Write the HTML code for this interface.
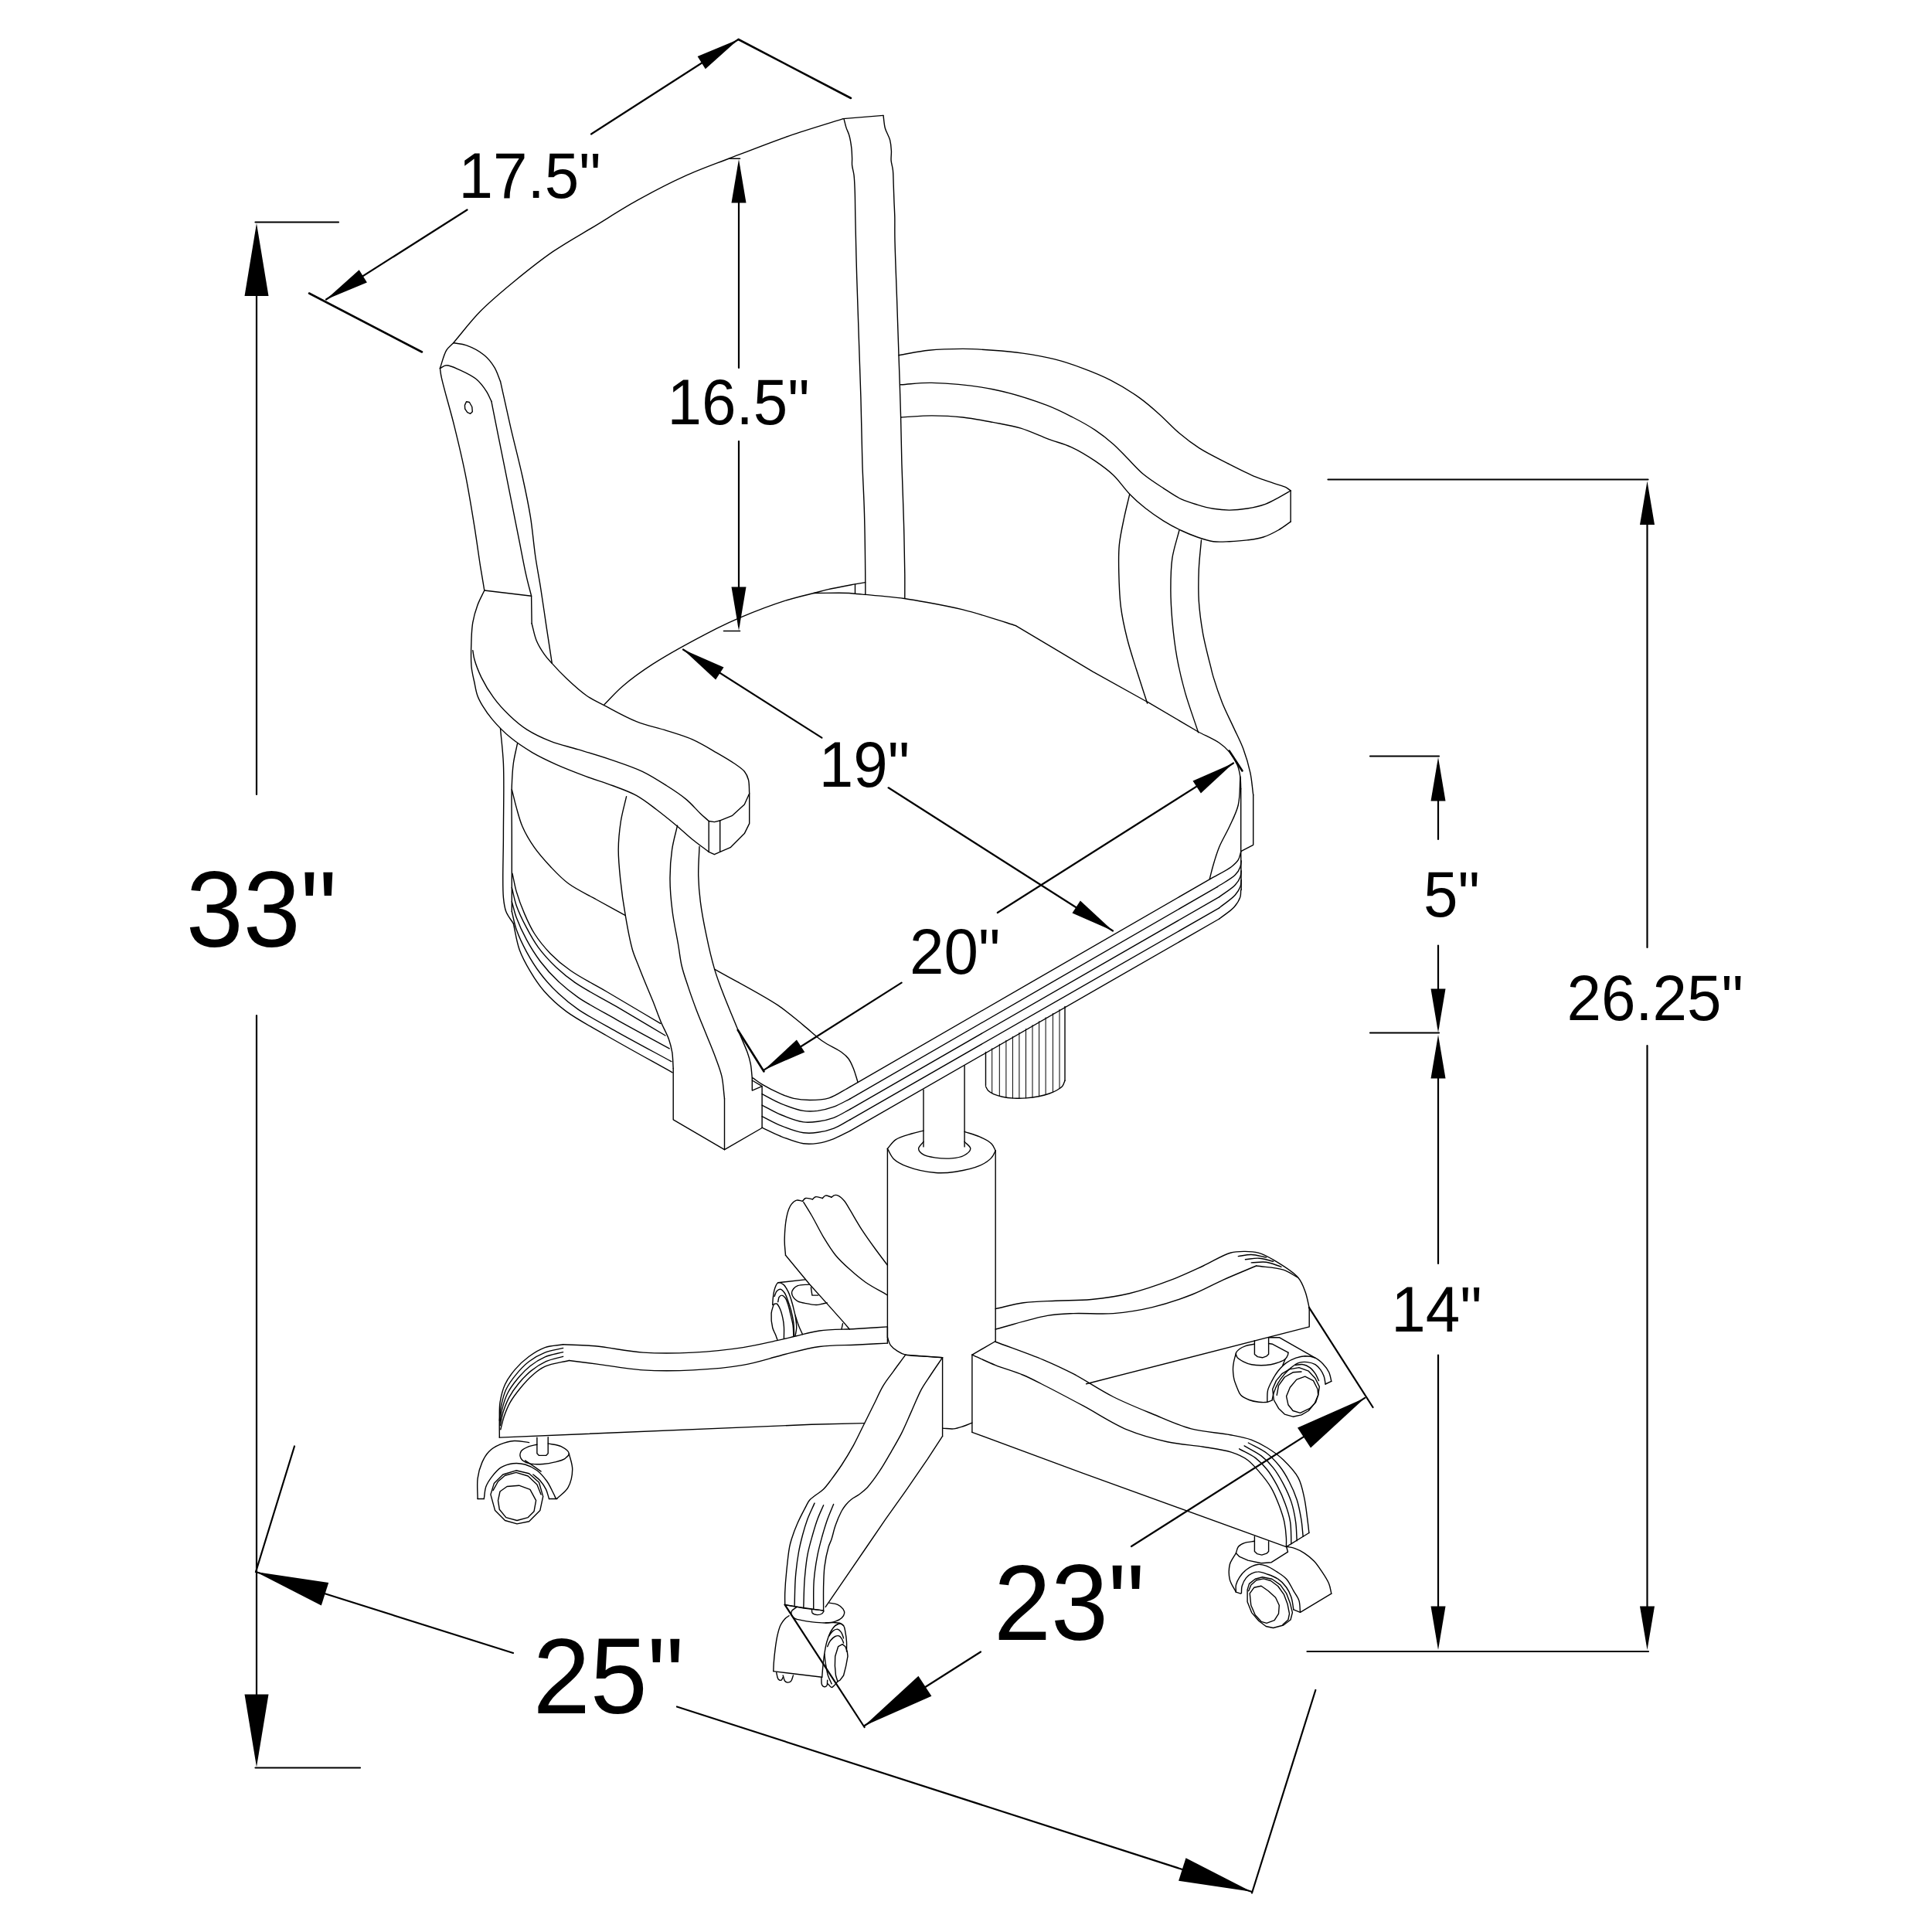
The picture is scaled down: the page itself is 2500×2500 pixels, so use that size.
<!DOCTYPE html>
<html><head><meta charset="utf-8"><title>Chair dimensions</title>
<style>
html,body{margin:0;padding:0;background:#fff;}
body{width:2500px;height:2500px;overflow:hidden;}
svg{display:block;}
svg path{fill:none;stroke:#000;stroke-linecap:round;stroke-linejoin:round;}
svg path.a{fill:#000;stroke:none;}
svg text{font-family:"Liberation Sans",sans-serif;fill:#000;stroke:none;}
</style></head><body>
<svg width="2500" height="2500" viewBox="0 0 2500 2500">
<rect x="0" y="0" width="2500" height="2500" fill="#fff"/>
<path d="M330.5,287.5 L438.0,287.5" stroke-width="2.20"/>
<path d="M332.0,300.0 L332.0,1028.0" stroke-width="2.20"/>
<path d="M332.0,1314.0 L332.0,2276.0" stroke-width="2.20"/>
<path class="a" d="M332.0,289.0 L347.5,383.0 L316.5,383.0 Z"/>
<path class="a" d="M332.0,2286.5 L316.5,2192.5 L347.5,2192.5 Z"/>
<path d="M330.5,2287.5 L466.0,2287.5" stroke-width="2.20"/>
<text transform="translate(240.7,1225.0) scale(1,1.045)" font-size="133.0" text-anchor="start">33&quot;</text>
<path d="M381.0,1871.5 L331.0,2034.0" stroke-width="2.20"/>
<path d="M1702.3,2187.0 L1620.0,2449.5" stroke-width="2.20"/>
<path d="M331.0,2034.0 L664.0,2139.0" stroke-width="2.20"/>
<path d="M876.0,2208.5 L1619.3,2447.8" stroke-width="2.20"/>
<path class="a" d="M331.0,2034.0 L425.2,2048.0 L415.8,2077.5 Z"/>
<path class="a" d="M1619.3,2447.8 L1525.1,2433.8 L1534.5,2404.3 Z"/>
<text transform="translate(689.7,2217.0) scale(1,1.045)" font-size="133.0" text-anchor="start">25&quot;</text>
<path d="M1015.5,2076.4 L1118.6,2235.0" stroke-width="2.20"/>
<path d="M1693.9,1691.9 L1776.5,1821.0" stroke-width="2.20"/>
<path d="M1118.3,2233.2 L1269.0,2137.5" stroke-width="2.20"/>
<path d="M1464.0,2001.0 L1766.1,1808.9" stroke-width="2.20"/>
<path class="a" d="M1118.3,2233.2 L1188.4,2168.7 L1205.4,2194.7 Z"/>
<path class="a" d="M1766.1,1808.9 L1696.0,1873.4 L1679.0,1847.4 Z"/>
<text transform="translate(1286.0,2122.0) scale(1,1.045)" font-size="133.0" text-anchor="start">23&quot;</text>
<path d="M1773.0,978.5 L1862.0,978.5" stroke-width="2.20"/>
<path d="M1773.0,1336.5 L1862.0,1336.5" stroke-width="2.20"/>
<path d="M1691.5,2137.0 L2133.0,2137.0" stroke-width="2.20"/>
<path class="a" d="M1861.0,980.0 L1870.5,1036.5 L1851.5,1036.5 Z"/>
<path d="M1861.0,990.0 L1861.0,1086.0" stroke-width="2.20"/>
<text transform="translate(1842.0,1186.0) scale(1,1.045)" font-size="80.0" text-anchor="start">5&quot;</text>
<path d="M1861.0,1223.5 L1861.0,1330.0" stroke-width="2.20"/>
<path class="a" d="M1861.0,1336.0 L1851.5,1279.5 L1870.5,1279.5 Z"/>
<path class="a" d="M1861.0,1339.0 L1870.5,1395.5 L1851.5,1395.5 Z"/>
<path d="M1861.0,1350.0 L1861.0,1635.0" stroke-width="2.20"/>
<text transform="translate(1800.3,1722.5) scale(1,1.045)" font-size="80.0" text-anchor="start">14&quot;</text>
<path d="M1861.0,1753.5 L1861.0,2125.0" stroke-width="2.20"/>
<path class="a" d="M1861.0,2135.0 L1851.5,2078.5 L1870.5,2078.5 Z"/>
<path d="M1718.5,620.5 L2132.5,620.5" stroke-width="2.20"/>
<path class="a" d="M2131.5,622.5 L2141.0,679.0 L2122.0,679.0 Z"/>
<path d="M2131.5,632.0 L2131.5,1226.0" stroke-width="2.20"/>
<path d="M2131.5,1353.0 L2131.5,2125.0" stroke-width="2.20"/>
<path class="a" d="M2131.5,2135.0 L2122.0,2078.5 L2141.0,2078.5 Z"/>
<text transform="translate(2027.4,1319.7) scale(1,1.045)" font-size="80.0" text-anchor="start">26.25&quot;</text>
<path d="M943.5,205.3 L957.5,205.3" stroke-width="1.60"/>
<path d="M936.5,816.5 L957.5,816.5" stroke-width="1.60"/>
<path class="a" d="M956.0,206.0 L965.5,262.5 L946.5,262.5 Z"/>
<path d="M956.0,215.0 L956.0,476.0" stroke-width="2.20"/>
<path d="M956.0,571.0 L956.0,810.0" stroke-width="2.20"/>
<path class="a" d="M956.0,816.0 L946.5,759.5 L965.5,759.5 Z"/>
<text transform="translate(863.5,548.5) scale(1,1.045)" font-size="80.0" text-anchor="start">16.5&quot;</text>
<path d="M400.0,379.5 L546.0,455.5" stroke-width="2.60"/>
<path d="M955.5,51.0 L1101.0,127.0" stroke-width="2.60"/>
<path d="M422.0,387.5 L604.5,271.5" stroke-width="2.20"/>
<path d="M765.0,173.5 L955.5,51.0" stroke-width="2.20"/>
<path class="a" d="M422.0,387.5 L464.7,349.3 L474.9,365.4 Z"/>
<path class="a" d="M955.5,51.0 L912.8,89.2 L902.6,73.1 Z"/>
<text transform="translate(593.5,256.0) scale(1,1.045)" font-size="80.0" text-anchor="start">17.5&quot;</text>
<path d="M884.0,840.5 L1063.4,954.6" stroke-width="2.20"/>
<path d="M1149.6,1019.3 L1440.0,1204.5" stroke-width="2.20"/>
<path class="a" d="M884.0,840.5 L936.5,863.5 L926.1,879.4 Z"/>
<path class="a" d="M1440.0,1204.5 L1387.5,1181.5 L1397.9,1165.6 Z"/>
<text transform="translate(1059.7,1018.0) scale(1,1.045)" font-size="80.0" text-anchor="start">19&quot;</text>
<path d="M954.7,1332.8 L988.5,1386.5" stroke-width="2.60"/>
<path d="M1590.7,971.6 L1607.5,997.5" stroke-width="2.60"/>
<path d="M988.8,1384.4 L1166.6,1271.6" stroke-width="2.20"/>
<path d="M1290.8,1181.0 L1596.0,987.5" stroke-width="2.20"/>
<path class="a" d="M988.8,1384.4 L1030.9,1345.5 L1041.3,1361.4 Z"/>
<path class="a" d="M1596.0,987.5 L1553.9,1026.4 L1543.5,1010.5 Z"/>
<text transform="translate(1177.0,1259.5) scale(1,1.045)" font-size="80.0" text-anchor="start">20&quot;</text>
<path d="M586.7,443.7 C598.3,430.1 608.8,415.8 621.6,402.8 C635.0,389.2 650.2,376.7 665.6,364.0 C681.7,350.8 698.7,337.1 716.1,325.2 C733.3,313.4 751.2,303.7 769.2,292.8 C787.5,281.7 805.6,269.8 824.8,259.2 C844.4,248.2 865.2,237.3 885.6,228.1 C905.3,219.2 923.9,212.7 945.0,204.5 C968.8,195.3 996.2,184.5 1021.1,175.8 C1044.8,167.6 1067.7,161.0 1091.0,153.6" stroke-width="1.40"/>
<path d="M1091.0,153.6 L1143.0,149.4" stroke-width="1.40"/>
<path d="M586.7,443.7 C583.7,446.9 580.2,449.0 577.6,453.3 C574.1,459.1 572.1,468.8 569.4,476.6" stroke-width="1.40"/>
<path d="M586.7,443.7 C592.3,444.7 597.6,444.7 603.5,446.8 C610.9,449.4 620.6,454.5 626.8,459.7 C632.3,464.2 636.3,469.6 639.8,475.3 C643.2,480.8 644.9,487.3 647.5,493.4" stroke-width="1.40"/>
<path d="M569.4,476.6 C572.1,475.3 574.3,472.8 577.6,472.7 C582.5,472.4 589.6,476.4 595.8,479.1 C602.6,482.2 610.7,486.0 616.5,490.8 C621.8,495.2 626.0,501.2 629.4,506.3 C632.2,510.7 633.7,514.9 635.9,519.3" stroke-width="1.40"/>
<path d="M601.4,524.4 L603.5,519.8 L607.4,520.5 L610.8,526.5 L611.3,532.7 L608.7,535.3 L604.8,533.7 L601.7,529.1 L601.4,524.4" stroke-width="1.40"/>
<path d="M569.4,476.6 C570.0,480.4 570.0,482.8 571.2,488.2 C573.8,500.9 582.8,530.7 588.0,551.8 C593.1,572.5 598.0,592.7 602.2,613.9 C606.6,635.8 610.5,660.2 613.9,681.2 C616.8,699.5 619.3,717.9 621.6,732.9 C623.5,744.6 625.1,753.6 626.8,764.0" stroke-width="1.40"/>
<path d="M635.9,519.3 C638.9,534.4 641.6,548.2 644.9,564.7 C648.9,584.4 653.6,607.8 657.9,629.4 C662.2,651.0 666.7,673.7 670.8,694.1 C674.5,712.3 677.9,731.7 681.2,745.9 C683.4,755.8 685.5,762.8 687.6,771.2" stroke-width="1.40"/>
<path d="M647.5,493.4 C651.8,512.8 655.9,531.8 660.5,551.8 C665.3,572.8 671.5,596.1 676.0,616.5 C680.0,634.6 683.5,650.9 686.3,668.2 C689.1,685.4 690.5,704.0 692.8,720.0 C694.8,733.9 697.1,744.9 699.3,758.8 C701.8,774.8 704.5,793.6 707.0,810.6 C709.5,826.8 711.9,842.5 714.3,858.4" stroke-width="1.40"/>
<path d="M626.8,764.0 L687.6,771.2 L688.1,806.7" stroke-width="1.40"/>
<path d="M1092.1,154.1 C1093.0,157.7 1093.8,161.4 1094.9,164.9 C1096.0,168.4 1097.7,171.1 1098.8,175.0 C1100.2,179.9 1101.3,186.8 1101.9,192.1 C1102.4,196.5 1102.5,200.7 1102.6,204.5 C1102.7,207.8 1102.3,210.6 1102.6,213.9 C1103.0,217.8 1104.4,221.6 1105.0,226.3 C1105.7,232.2 1105.9,238.9 1106.2,246.5 C1106.6,256.3 1106.5,266.5 1106.8,280.0 C1107.2,300.7 1107.9,332.6 1108.7,358.8 C1109.4,384.8 1110.4,410.6 1111.3,436.4 C1112.1,462.3 1113.1,487.5 1113.9,514.1 C1114.7,542.0 1115.1,573.4 1115.9,600.0 C1116.7,623.1 1117.9,641.3 1118.5,664.7 C1119.3,692.4 1119.7,738.1 1119.8,755.3 C1119.9,762.1 1119.8,764.8 1119.8,769.5" stroke-width="1.40"/>
<path d="M1143.0,149.4 C1143.8,154.8 1143.9,160.4 1145.3,165.7 C1146.7,171.0 1150.3,176.1 1151.6,181.2 C1152.8,185.9 1153.2,190.7 1153.4,195.2 C1153.6,199.5 1152.8,203.5 1153.1,207.6 C1153.4,211.8 1154.9,215.5 1155.4,220.1 C1156.0,225.7 1155.9,232.2 1156.2,238.7 C1156.5,246.0 1156.7,254.7 1157.0,262.0 C1157.3,268.4 1157.6,273.4 1157.8,280.0 C1158.0,288.1 1157.7,295.7 1157.9,307.0 C1158.2,326.3 1159.6,359.0 1160.5,384.7 C1161.3,409.9 1162.2,434.3 1163.0,459.7 C1163.9,486.0 1165.0,515.1 1165.6,540.0 C1166.2,561.4 1166.3,578.7 1166.9,600.0 C1167.6,624.2 1168.9,652.9 1169.5,677.6 C1170.1,700.2 1170.6,724.6 1170.8,742.3 C1170.9,754.7 1170.8,763.4 1170.8,773.9" stroke-width="1.40"/>
<path d="M626.8,764.0 C623.8,770.4 620.2,776.6 617.8,783.4 C615.2,790.4 613.1,798.0 611.8,805.4 C610.5,812.7 610.3,819.2 610.0,827.4 C609.6,837.7 609.1,852.2 610.0,862.3 C610.7,870.2 612.5,876.5 613.9,883.0 C615.1,889.0 615.9,894.8 617.8,900.0 C619.4,904.7 621.5,908.4 624.2,912.9 C627.6,918.6 631.9,924.9 637.2,931.1 C643.5,938.6 651.9,947.3 660.5,954.3 C669.2,961.6 679.0,967.9 688.9,973.8 C698.9,979.6 708.9,984.3 720.0,989.3 C732.1,994.7 746.3,1000.1 758.8,1004.8 C770.4,1009.1 781.5,1012.3 792.4,1016.5 C803.1,1020.5 813.9,1024.1 823.5,1029.4 C832.8,1034.5 840.9,1041.1 849.4,1047.5 C858.1,1054.1 867.2,1061.5 875.3,1068.2 C882.6,1074.4 889.5,1081.1 896.0,1086.3 C901.4,1090.8 907.6,1095.0 911.5,1098.0 C913.9,1099.8 915.3,1100.9 917.2,1102.4" stroke-width="1.40"/>
<path d="M611.8,841.6 C612.5,845.5 612.6,848.8 613.9,853.3 C615.7,859.8 619.1,868.7 622.9,876.6 C627.1,885.1 632.5,894.3 638.5,902.4 C644.5,910.7 651.8,918.7 659.2,925.7 C666.3,932.5 673.4,938.7 681.9,944.1 C691.2,950.0 702.1,955.1 713.0,959.4 C724.2,963.8 736.2,966.1 748.4,969.9 C761.7,973.9 776.1,978.1 789.9,982.8 C803.7,987.6 818.7,992.4 831.3,998.3 C842.6,1003.7 852.6,1010.2 862.3,1016.5 C871.5,1022.3 880.6,1028.2 888.2,1034.6 C895.1,1040.3 901.0,1047.6 906.3,1052.7 C910.3,1056.5 913.6,1059.2 917.2,1062.5" stroke-width="1.40"/>
<path d="M688.1,806.7 C690.1,814.0 691.3,821.9 694.1,828.7 C696.8,835.2 700.8,841.6 704.5,846.8 C707.6,851.3 710.4,854.1 714.3,858.4 C719.4,864.2 726.0,871.3 732.9,877.8 C740.7,885.2 750.1,893.9 758.8,900.0 C766.5,905.4 773.2,908.2 782.1,912.9 C793.9,919.1 809.7,928.2 823.5,933.6 C836.4,938.8 849.9,941.3 862.3,945.3 C874.0,949.1 885.2,952.2 896.0,956.9 C906.7,961.7 917.5,968.3 927.0,973.8 C935.4,978.6 943.8,983.4 950.3,988.0 C955.4,991.6 960.2,994.5 963.3,998.3 C965.8,1001.5 967.3,1004.6 968.4,1008.7 C969.8,1013.8 969.3,1020.8 969.7,1026.8" stroke-width="1.40"/>
<path d="M917.2,1062.5 L924.4,1063.6 L932.2,1061.7 L947.7,1055.3 L963.3,1041.0 L969.7,1026.8 L969.7,1065.6 L963.3,1078.6 L945.1,1096.7 L931.7,1102.4 L924.4,1105.7 L917.2,1102.4 L917.2,1062.5" stroke-width="1.40"/>
<path d="M931.7,1061.7 L931.7,1102.4" stroke-width="1.40"/>
<path d="M1163.0,459.7 C1176.0,457.6 1188.5,454.6 1201.9,453.3 C1216.0,451.8 1231.7,451.4 1245.9,451.4 C1259.2,451.5 1271.8,452.3 1284.7,453.3 C1297.6,454.2 1310.4,455.3 1323.5,457.1 C1337.1,459.1 1351.7,461.6 1364.9,464.9 C1377.5,468.1 1389.2,472.1 1401.1,476.6 C1413.3,481.1 1425.5,486.0 1437.4,492.1 C1449.7,498.4 1462.7,506.4 1473.6,514.1 C1483.4,521.0 1491.5,528.2 1500.1,535.9 C1508.9,543.7 1517.1,553.0 1526.0,560.5 C1534.4,567.6 1542.3,573.7 1551.9,579.9 C1562.7,586.8 1576.0,593.1 1588.1,599.3 C1600.1,605.4 1613.5,612.3 1624.3,616.9 C1632.8,620.4 1640.5,622.7 1647.6,625.2 C1653.7,627.3 1660.4,628.8 1664.4,630.8 C1667.0,632.2 1668.2,633.6 1670.1,635.0" stroke-width="1.40"/>
<path d="M1165.6,497.8 C1179.0,497.0 1190.1,495.1 1205.7,495.4 C1227.7,496.0 1259.4,498.7 1284.7,503.7 C1308.9,508.5 1335.7,517.3 1354.6,524.4 C1368.0,529.5 1377.5,534.5 1388.2,540.0 C1398.4,545.2 1408.3,550.6 1417.3,556.6 C1425.7,562.2 1433.5,568.4 1440.6,574.7 C1447.2,580.5 1452.5,586.6 1458.7,592.8 C1465.4,599.5 1471.8,607.1 1479.4,613.5 C1487.3,620.1 1496.8,626.1 1505.3,631.6 C1513.2,636.8 1520.8,642.2 1528.6,645.9 C1535.5,649.1 1542.3,651.0 1549.3,653.1 C1556.1,655.2 1563.0,657.1 1570.0,658.3 C1576.8,659.4 1583.6,660.1 1590.7,660.1 C1598.2,660.1 1606.3,659.3 1614.0,658.0 C1621.8,656.7 1630.1,654.9 1637.3,652.3 C1643.8,649.9 1649.7,646.3 1655.4,643.3 C1660.6,640.5 1665.2,637.8 1670.1,635.0" stroke-width="1.40"/>
<path d="M1165.6,540.0 C1179.0,539.3 1192.4,537.9 1205.7,537.9 C1219.1,537.9 1232.6,538.5 1245.9,540.0 C1258.9,541.4 1272.0,544.0 1284.7,546.4 C1297.0,548.8 1309.0,550.6 1320.9,554.2 C1333.1,557.9 1345.7,564.2 1357.1,568.4 C1367.3,572.2 1376.6,574.1 1386.2,578.6 C1396.6,583.4 1407.9,590.3 1417.3,596.7 C1425.8,602.5 1433.3,607.9 1440.6,614.8 C1448.2,622.0 1454.6,632.0 1461.8,639.4 C1468.4,646.1 1474.8,651.8 1482.0,657.5 C1489.3,663.3 1497.4,668.9 1505.3,673.8 C1512.9,678.5 1520.9,682.9 1528.6,686.5 C1535.6,689.8 1542.3,692.6 1549.3,695.0 C1556.1,697.4 1563.0,699.8 1570.0,700.7 C1576.8,701.6 1583.6,701.0 1590.7,700.7 C1598.2,700.4 1606.5,699.9 1614.0,698.9 C1621.1,698.0 1628.0,697.2 1634.7,695.0 C1641.4,692.9 1648.1,689.4 1654.1,686.0 C1659.8,682.7 1664.8,678.7 1670.1,675.1" stroke-width="1.40"/>
<path d="M1670.1,635.0 L1670.1,675.1" stroke-width="1.40"/>
<path d="M1461.8,639.4 C1459.5,649.3 1457.0,658.7 1454.8,669.2 C1452.4,680.6 1449.5,693.3 1448.3,705.4 C1447.2,717.4 1447.5,729.0 1447.8,741.6 C1448.1,755.6 1448.6,771.2 1450.4,785.6 C1452.2,799.7 1455.3,813.5 1458.7,827.0 C1462.0,840.2 1466.2,852.5 1470.3,865.8 C1474.8,880.1 1479.8,895.3 1484.6,910.0" stroke-width="1.40"/>
<path d="M1526.0,686.0 C1523.0,698.1 1518.8,709.7 1516.9,722.2 C1515.0,735.1 1514.9,748.8 1514.9,762.3 C1514.8,776.0 1515.7,789.5 1516.9,803.7 C1518.3,818.8 1520.1,834.9 1522.9,850.3 C1525.7,865.8 1529.3,880.9 1533.7,896.6 C1538.5,913.3 1545.0,930.7 1550.6,947.8" stroke-width="1.40"/>
<path d="M1554.5,698.9 C1553.4,711.4 1551.9,723.6 1551.3,736.4 C1550.8,749.9 1550.5,764.1 1551.3,777.8 C1552.2,791.7 1554.0,805.1 1556.5,819.3 C1559.2,834.4 1565.0,856.0 1567.4,865.8 C1568.5,870.4 1568.7,871.6 1570.0,875.9 C1572.4,883.8 1577.3,898.6 1581.6,909.5 C1585.9,920.2 1591.2,930.4 1595.9,940.6 C1600.3,950.3 1605.2,959.2 1608.8,969.0 C1612.5,979.0 1615.7,989.9 1617.9,1000.1 C1619.9,1009.7 1620.4,1019.1 1621.7,1028.6" stroke-width="1.40"/>
<path d="M1621.7,1028.6 L1621.7,1093.3 L1605.7,1101.6" stroke-width="1.40"/>
<path d="M810.6,1030.7 C808.1,1041.5 805.0,1051.9 803.3,1063.0 C801.5,1074.7 800.3,1087.0 800.2,1099.3 C800.1,1112.0 801.4,1124.6 802.8,1138.1 C804.3,1152.9 806.6,1169.4 809.3,1184.7 C811.8,1199.6 814.9,1216.7 818.3,1228.7 C820.8,1237.2 823.6,1243.0 826.3,1250.0 C829.0,1257.0 831.6,1263.5 834.6,1270.7 C837.8,1278.6 841.5,1287.1 844.9,1295.5 C848.4,1304.3 851.7,1313.9 855.3,1322.5 C858.6,1330.4 863.2,1338.1 865.6,1345.2 C867.7,1351.1 868.8,1355.9 869.8,1361.8 C870.8,1368.3 870.7,1375.6 871.2,1382.5" stroke-width="1.40"/>
<path d="M876.6,1068.2 C874.2,1078.6 871.2,1088.3 869.6,1099.3 C867.8,1111.4 866.9,1124.9 867.0,1138.1 C867.0,1151.7 868.3,1165.5 870.1,1179.5 C871.9,1194.0 875.7,1210.7 877.8,1223.5 C879.5,1233.4 880.1,1241.2 882.2,1250.0 C884.3,1259.0 887.5,1267.8 890.5,1276.9 C893.6,1286.4 897.1,1296.1 900.8,1305.9 C904.7,1316.1 909.1,1326.6 913.3,1337.0 C917.4,1347.3 922.1,1358.2 925.7,1368.0 C928.9,1376.7 932.0,1384.2 934.0,1392.9 C936.0,1402.0 936.3,1412.2 937.5,1421.8" stroke-width="1.40"/>
<path d="M905.0,1095.4 C904.6,1107.9 903.5,1120.8 903.7,1132.9 C904.0,1144.4 904.8,1154.6 906.3,1166.6 C908.0,1180.3 911.0,1196.0 914.1,1210.6 C917.1,1225.2 920.9,1241.4 924.6,1254.1 C927.6,1264.3 930.5,1271.8 934.0,1281.1 C937.7,1291.1 942.4,1302.4 946.4,1312.1 C950.0,1320.9 953.3,1328.7 956.7,1337.0 C960.2,1345.2 964.5,1354.6 967.1,1361.8 C969.0,1367.2 970.2,1371.1 971.2,1376.3 C972.4,1382.1 972.6,1388.7 973.3,1394.9" stroke-width="1.40"/>
<path d="M871.2,1382.5 L871.2,1448.8 L937.5,1487.7 L986.1,1459.5 L986.1,1405.7 L973.3,1411.1 L973.3,1394.9" stroke-width="1.40"/>
<path d="M937.5,1421.8 L937.5,1487.7" stroke-width="1.40"/>
<path d="M973.3,1398.0 L986.1,1405.7" stroke-width="1.40"/>
<path d="M647.5,942.7 C648.8,957.8 650.6,970.2 651.4,988.0 C652.5,1013.5 651.4,1051.3 651.4,1081.2 C651.4,1108.9 649.8,1144.2 651.4,1161.4 C652.2,1169.6 652.6,1173.9 654.8,1179.5 C656.9,1185.1 661.1,1189.9 664.3,1195.0" stroke-width="1.40"/>
<path d="M669.5,962.1 C667.8,970.7 665.5,979.1 664.3,988.0 C663.1,997.2 662.7,1005.0 662.3,1016.5 C661.6,1033.7 662.3,1057.3 662.3,1081.2 C662.3,1110.5 662.3,1146.7 662.3,1179.5" stroke-width="1.40"/>
<path d="M662.3,1021.6 C664.3,1029.4 666.0,1037.1 668.2,1044.9 C670.5,1053.0 672.4,1061.3 676.0,1069.5 C679.9,1078.6 685.5,1088.1 691.5,1096.7 C697.6,1105.4 704.9,1113.5 712.2,1121.3 C719.5,1129.0 726.4,1136.5 735.5,1143.3 C745.9,1151.0 759.5,1157.1 771.7,1164.0 C784.1,1170.9 796.8,1177.8 809.3,1184.7" stroke-width="1.40"/>
<path d="M663.0,1130.3 C664.8,1138.1 665.9,1145.5 668.2,1153.6 C670.9,1162.7 674.6,1172.9 678.6,1182.1 C682.4,1191.0 686.2,1199.6 691.5,1208.0 C697.2,1216.9 704.5,1225.9 712.2,1233.9 C720.0,1241.9 727.8,1248.6 738.1,1255.8 C751.0,1265.0 767.6,1273.0 784.7,1283.0 C805.6,1295.3 831.3,1310.6 854.6,1324.4" stroke-width="1.40"/>
<path d="M662.3,1148.4 C664.3,1156.2 665.4,1163.7 668.2,1171.7 C671.4,1180.9 676.4,1191.1 681.2,1200.2 C685.9,1209.2 690.5,1217.7 696.7,1226.1 C703.3,1235.0 711.7,1244.1 720.0,1252.0 C728.1,1259.6 735.4,1265.6 745.9,1272.7 C759.9,1282.2 779.5,1291.9 797.6,1302.4 C817.7,1314.2 839.9,1327.4 861.0,1340.0" stroke-width="1.40"/>
<path d="M662.3,1166.6 C664.3,1173.5 665.5,1179.9 668.2,1187.3 C671.5,1196.1 676.1,1206.4 681.2,1215.7 C686.4,1225.4 692.4,1235.2 699.3,1244.2 C706.2,1253.3 714.3,1262.2 722.6,1270.1 C730.7,1277.7 738.1,1283.7 748.4,1290.8 C761.9,1300.0 779.8,1309.2 797.6,1319.3 C818.5,1331.0 843.3,1344.3 866.2,1356.8" stroke-width="1.40"/>
<path d="M662.3,1179.5 C664.3,1187.3 665.4,1194.8 668.2,1202.8 C671.4,1211.9 676.1,1221.9 681.2,1231.3 C686.4,1240.9 692.4,1250.7 699.3,1259.7 C706.2,1268.9 714.3,1277.8 722.6,1285.6 C730.7,1293.3 738.1,1299.3 748.4,1306.3 C761.9,1315.5 779.6,1324.7 797.6,1334.8 C819.1,1346.8 845.1,1360.7 868.8,1373.6" stroke-width="1.40"/>
<path d="M664.3,1195.0 C666.9,1206.2 668.3,1218.1 672.1,1228.7 C675.7,1238.8 680.9,1248.1 686.3,1257.1 C691.7,1266.2 697.2,1274.8 704.5,1283.0 C712.5,1292.1 721.5,1300.4 732.9,1308.9 C747.2,1319.5 765.2,1328.6 784.7,1340.0 C809.5,1354.4 841.6,1371.9 870.1,1387.8" stroke-width="1.40"/>
<path d="M782.1,911.5 C789.9,903.7 796.3,896.0 805.4,888.2 C816.4,878.8 828.4,869.9 844.2,859.7 C866.4,845.5 906.3,824.1 927.6,813.2 C940.4,806.7 946.9,803.7 959.0,798.6 C974.9,791.9 997.9,783.0 1014.9,777.6 C1028.7,773.2 1042.7,770.2 1053.0,767.5 C1060.0,765.7 1063.8,764.5 1070.8,762.9 C1080.6,760.7 1097.5,757.6 1106.5,755.9 C1112.0,754.9 1115.3,754.4 1119.7,753.6" stroke-width="1.40"/>
<path d="M1053.0,767.5 C1068.3,767.5 1089.9,767.0 1098.8,767.5 C1102.4,767.7 1103.6,768.0 1106.5,768.3 C1110.3,768.7 1114.7,769.0 1119.7,769.4 C1126.2,770.0 1134.3,770.6 1142.2,771.4 C1151.0,772.3 1160.7,773.2 1170.2,774.5 C1180.0,775.9 1189.0,777.5 1200.0,779.5 C1213.7,782.0 1231.5,785.4 1245.9,788.9 C1258.7,792.1 1270.4,795.7 1282.1,799.3 C1293.2,802.6 1303.7,806.2 1314.4,809.6" stroke-width="1.40"/>
<path d="M1314.4,809.6 L1362.3,838.1 L1414.1,869.2 L1484.0,908.0 L1484.6,908.2 L1550.6,947.0" stroke-width="1.40"/>
<path d="M1550.6,947.0 C1559.6,951.8 1570.6,956.3 1577.7,961.3 C1583.1,965.0 1586.9,968.4 1590.7,972.9 C1594.7,977.8 1598.6,984.1 1601.0,989.8 C1603.2,994.9 1604.1,1000.1 1604.9,1005.3 C1605.7,1010.4 1605.4,1015.6 1605.7,1020.8" stroke-width="1.40"/>
<path d="M1106.5,755.9 L1106.5,768.3" stroke-width="1.40"/>
<path d="M1605.7,1020.8 L1605.7,1101.6" stroke-width="1.40"/>
<path d="M1604.9,1005.3 C1604.1,1017.4 1604.9,1030.4 1602.3,1041.5 C1599.9,1051.8 1594.9,1060.8 1590.7,1070.0 C1586.6,1078.9 1581.3,1087.3 1577.7,1095.9 C1574.5,1103.7 1572.1,1111.8 1570.0,1119.2 C1568.1,1125.5 1566.9,1131.2 1565.3,1137.3" stroke-width="1.40"/>
<path d="M924.6,1254.1 C951.9,1269.7 985.6,1286.8 1006.4,1300.7 C1020.3,1310.1 1029.4,1318.4 1039.5,1326.6 C1048.5,1333.8 1055.9,1341.3 1064.4,1347.3 C1072.4,1353.0 1083.2,1357.3 1089.2,1361.8 C1093.1,1364.7 1095.5,1366.7 1098.0,1370.0 C1100.7,1373.6 1102.5,1378.2 1104.5,1382.9 C1106.6,1388.3 1108.2,1394.7 1110.1,1400.5" stroke-width="1.40"/>
<path d="M974.3,1394.9 C978.3,1397.7 981.4,1400.3 986.1,1403.2 C992.7,1407.2 1003.1,1412.4 1010.6,1415.6 C1016.5,1418.2 1021.2,1420.1 1027.1,1421.4 C1033.6,1422.9 1040.6,1423.5 1047.8,1423.5 C1055.7,1423.5 1064.4,1423.3 1072.7,1420.8 C1081.8,1418.0 1090.9,1411.1 1100.0,1406.3" stroke-width="1.40"/>
<path d="M1100.0,1406.3 L1566.1,1137.3" stroke-width="1.40"/>
<path d="M1566.1,1137.3 C1575.2,1132.1 1586.9,1126.6 1593.3,1121.7 C1597.4,1118.6 1600.2,1116.1 1602.3,1112.7 C1604.2,1109.6 1604.6,1105.8 1605.7,1102.3" stroke-width="1.40"/>
<path d="M986.1,1415.6 C994.3,1419.8 1001.9,1424.5 1010.6,1428.1 C1019.7,1431.8 1030.8,1436.0 1039.5,1437.4 C1046.3,1438.4 1051.9,1438.1 1058.2,1437.4 C1064.9,1436.5 1072.1,1434.7 1078.9,1432.2 C1086.0,1429.6 1093.0,1425.3 1100.0,1421.8" stroke-width="1.40"/>
<path d="M1100.0,1421.8 L1575.2,1147.6" stroke-width="1.40"/>
<path d="M1575.2,1147.6 C1582.9,1142.4 1593.4,1137.3 1598.4,1132.1 C1601.8,1128.7 1603.7,1125.1 1604.9,1121.7 C1605.9,1119.1 1605.8,1116.6 1606.2,1114.0" stroke-width="1.40"/>
<path d="M986.1,1430.1 C994.3,1434.3 1001.9,1439.0 1010.6,1442.5 C1019.7,1446.3 1030.9,1450.6 1039.5,1451.9 C1046.3,1452.8 1051.8,1452.1 1058.2,1451.2 C1064.9,1450.3 1072.1,1448.8 1078.9,1446.3 C1086.1,1443.6 1093.0,1439.0 1100.0,1435.3" stroke-width="1.40"/>
<path d="M1100.0,1435.3 L1577.7,1160.6" stroke-width="1.40"/>
<path d="M1577.7,1160.6 C1584.6,1155.4 1593.8,1150.1 1598.4,1145.0 C1601.7,1141.5 1603.7,1138.0 1604.9,1134.7 C1605.9,1132.0 1605.8,1129.5 1606.2,1126.9" stroke-width="1.40"/>
<path d="M986.1,1444.6 C994.3,1448.6 1001.9,1453.2 1010.6,1456.6 C1019.7,1460.3 1030.9,1464.5 1039.5,1465.7 C1046.4,1466.7 1051.9,1466.2 1058.2,1465.3 C1064.9,1464.4 1072.1,1462.8 1078.9,1460.1 C1086.1,1457.4 1093.0,1452.6 1100.0,1448.8" stroke-width="1.40"/>
<path d="M1100.0,1448.8 L1577.7,1174.8" stroke-width="1.40"/>
<path d="M1577.7,1174.8 C1584.6,1169.2 1593.8,1163.3 1598.4,1158.0 C1601.6,1154.4 1603.6,1151.1 1604.9,1147.6 C1606.0,1144.6 1605.8,1141.6 1606.2,1138.6" stroke-width="1.40"/>
<path d="M986.1,1459.1 C994.3,1462.9 1002.0,1467.1 1010.6,1470.5 C1019.7,1474.1 1030.8,1478.5 1039.5,1479.8 C1046.3,1480.8 1051.9,1480.3 1058.2,1479.4 C1065.0,1478.4 1072.1,1476.2 1078.9,1473.6 C1086.0,1470.9 1093.0,1466.7 1100.0,1463.3" stroke-width="1.40"/>
<path d="M1100.0,1463.3 L1577.7,1189.0" stroke-width="1.40"/>
<path d="M1577.7,1189.0 C1584.2,1183.9 1592.5,1178.9 1597.2,1173.5 C1600.8,1169.3 1603.6,1164.6 1604.9,1160.6 C1605.9,1157.4 1605.4,1154.5 1605.7,1151.5" stroke-width="1.40"/>
<path d="M1605.7,1101.6 L1606.2,1151.5" stroke-width="1.40"/>
<path d="M1195.0,1410.1 L1195.0,1483.9" stroke-width="1.40"/>
<path d="M1248.1,1379.0 L1248.1,1483.9" stroke-width="1.40"/>
<path d="M1148.4,1486.4 C1151.9,1482.6 1154.3,1477.9 1158.8,1474.8 C1164.2,1471.1 1173.0,1469.0 1179.5,1467.0 C1185.0,1465.3 1189.9,1464.4 1195.0,1463.1" stroke-width="1.40"/>
<path d="M1248.1,1464.4 C1254.6,1466.6 1261.5,1468.2 1267.5,1470.9 C1273.1,1473.4 1279.5,1476.4 1283.0,1480.0 C1285.7,1482.7 1286.5,1486.0 1288.2,1489.0" stroke-width="1.40"/>
<path d="M1148.4,1486.4 C1151.0,1490.8 1152.5,1495.7 1156.2,1499.4 C1160.6,1503.7 1167.0,1506.9 1174.3,1509.7 C1184.1,1513.5 1199.4,1516.6 1210.6,1517.5 C1219.9,1518.2 1227.5,1517.5 1236.4,1516.2 C1246.4,1514.7 1259.2,1512.1 1267.5,1508.4 C1273.9,1505.6 1279.5,1501.9 1283.0,1498.1 C1285.7,1495.3 1286.5,1492.0 1288.2,1489.0" stroke-width="1.40"/>
<path d="M1195.0,1477.4 C1192.9,1480.4 1188.5,1483.6 1188.6,1486.4 C1188.7,1489.2 1192.0,1492.3 1195.0,1494.2 C1198.8,1496.6 1205.0,1497.3 1210.6,1498.1 C1216.9,1499.0 1224.9,1499.4 1231.3,1498.9 C1236.8,1498.4 1242.6,1497.8 1246.8,1495.5 C1250.6,1493.4 1255.7,1489.5 1255.8,1486.4 C1256.0,1483.5 1250.7,1480.4 1248.1,1477.4" stroke-width="1.40"/>
<path d="M1148.4,1486.4 L1148.4,1650.0 L1148.4,1730.3" stroke-width="1.40"/>
<path d="M1148.4,1730.3 C1149.7,1733.8 1150.2,1737.7 1152.3,1740.7 C1154.5,1743.8 1158.1,1746.4 1161.4,1748.4 C1164.6,1750.5 1167.6,1752.0 1171.7,1753.1 C1177.4,1754.6 1185.1,1754.3 1192.4,1754.9 C1200.9,1755.6 1210.6,1756.1 1219.6,1756.7" stroke-width="1.40"/>
<path d="M1288.2,1489.0 L1288.2,1650.0 L1288.2,1736.0" stroke-width="1.40"/>
<path d="M1219.6,1848.1 C1224.4,1848.3 1229.3,1849.3 1233.9,1848.9 C1238.3,1848.4 1242.7,1846.8 1246.8,1845.5 C1250.7,1844.2 1254.2,1842.6 1257.9,1841.1" stroke-width="1.40"/>
<path d="M1275.5,1361.5 L1275.5,1404.7" stroke-width="1.40"/>
<path d="M1378.0,1302.4 L1378.0,1398.4" stroke-width="1.40"/>
<path d="M1275.5,1405.9 C1276.7,1407.8 1277.4,1410.0 1279.0,1411.6 C1280.8,1413.4 1283.3,1414.7 1286.0,1415.9 C1289.2,1417.3 1293.0,1418.4 1297.0,1419.2 C1301.6,1420.2 1306.9,1420.8 1312.0,1421.1 C1317.2,1421.4 1322.7,1421.3 1328.0,1420.9 C1333.3,1420.5 1338.9,1419.8 1344.0,1418.8 C1348.9,1417.8 1353.8,1416.5 1358.0,1415.0 C1361.7,1413.7 1365.1,1412.3 1368.0,1410.5 C1370.6,1408.9 1373.3,1407.3 1375.0,1405.1 C1376.5,1403.1 1377.0,1400.6 1378.0,1398.3" stroke-width="1.40"/>
<path d="M1283.7,1356.7 L1283.7,1414.8" stroke-width="1.00"/>
<path d="M1293.3,1351.2 L1293.3,1418.4" stroke-width="1.00"/>
<path d="M1301.9,1346.3 L1301.9,1420.1" stroke-width="1.00"/>
<path d="M1310.4,1341.4 L1310.4,1421.0" stroke-width="1.00"/>
<path d="M1318.9,1336.5 L1318.9,1421.3" stroke-width="1.00"/>
<path d="M1327.5,1331.5 L1327.5,1420.9" stroke-width="1.00"/>
<path d="M1336.0,1326.6 L1336.0,1420.1" stroke-width="1.00"/>
<path d="M1344.6,1321.7 L1344.6,1418.7" stroke-width="1.00"/>
<path d="M1353.1,1316.8 L1353.1,1416.6" stroke-width="1.00"/>
<path d="M1362.4,1311.4 L1362.4,1413.3" stroke-width="1.00"/>
<path d="M1371.0,1306.5 L1371.0,1408.6" stroke-width="1.00"/>
<path d="M1171.7,1753.1 L1219.6,1756.7 L1219.6,1858.4" stroke-width="1.40"/>
<path d="M1219.6,1858.4 L1200.2,1888.2 L1171.7,1929.6 L1145.9,1965.8 L1122.6,2000.0 L1068.2,2079.4" stroke-width="1.40"/>
<path d="M1171.7,1753.1 C1166.6,1760.2 1161.1,1767.5 1156.2,1774.3 C1151.7,1780.6 1147.3,1785.7 1143.3,1792.4 C1138.6,1800.1 1134.6,1809.7 1130.3,1818.3 C1126.0,1826.9 1121.7,1835.6 1117.4,1844.2 C1113.1,1852.8 1109.1,1861.5 1104.5,1870.1 C1099.7,1878.8 1094.0,1888.2 1088.9,1896.0 C1084.5,1902.6 1080.1,1908.6 1076.0,1914.1 C1072.4,1918.8 1069.3,1923.4 1065.6,1927.0 C1062.4,1930.2 1058.5,1932.3 1055.3,1934.8 C1052.5,1937.0 1049.7,1938.7 1047.5,1941.3 C1045.3,1943.9 1044.3,1946.6 1042.3,1950.3 C1039.4,1955.8 1035.0,1964.0 1032.0,1971.0 C1029.0,1977.8 1026.0,1986.0 1024.2,1991.7 C1023.0,1995.6 1022.5,1997.5 1021.6,2001.8 C1020.2,2009.2 1018.8,2022.7 1017.8,2032.8 C1016.8,2042.5 1016.0,2053.2 1015.7,2061.3 C1015.5,2067.2 1015.7,2071.6 1015.7,2076.8" stroke-width="1.40"/>
<path d="M1219.6,1756.7 C1214.4,1764.3 1208.8,1772.3 1204.1,1779.5 C1199.9,1785.9 1196.2,1790.7 1192.4,1797.6 C1187.9,1805.9 1183.8,1816.6 1179.5,1826.1 C1175.2,1835.6 1171.1,1845.6 1166.6,1854.6 C1162.4,1862.8 1158.2,1869.9 1153.6,1877.8 C1148.7,1886.3 1143.5,1895.7 1138.1,1903.7 C1133.1,1911.2 1127.5,1919.1 1122.6,1924.4 C1119.0,1928.3 1115.8,1930.8 1112.2,1933.5 C1108.9,1936.0 1104.9,1937.5 1101.9,1940.0 C1098.9,1942.3 1096.3,1945.0 1094.1,1947.7 C1092.1,1950.2 1090.7,1952.3 1088.9,1955.5 C1086.4,1960.2 1083.3,1967.5 1081.2,1973.6 C1079.0,1979.6 1077.7,1986.6 1076.0,1991.7 C1074.7,1995.6 1073.3,1997.6 1072.1,2001.8 C1070.2,2008.3 1068.0,2019.0 1066.9,2027.6 C1065.9,2036.2 1065.9,2044.5 1065.6,2053.5 C1065.4,2063.3 1065.6,2073.9 1065.6,2084.1" stroke-width="1.40"/>
<path d="M1054.0,1945.1 C1051.0,1952.0 1047.5,1958.9 1044.9,1965.8 C1042.4,1972.7 1040.4,1979.4 1038.5,1986.5 C1036.5,1994.0 1034.7,2001.2 1033.3,2009.5 C1031.6,2019.1 1030.3,2029.7 1029.4,2040.6 C1028.4,2052.6 1028.5,2065.9 1028.1,2078.6" stroke-width="1.40"/>
<path d="M1065.6,1947.7 C1063.0,1953.8 1060.2,1959.5 1057.9,1965.8 C1055.4,1972.4 1053.5,1979.2 1051.4,1986.5 C1049.1,1994.6 1046.6,2002.9 1044.9,2012.1 C1043.0,2022.5 1041.9,2034.4 1041.0,2045.8 C1040.2,2057.3 1040.2,2069.0 1039.8,2080.7" stroke-width="1.40"/>
<path d="M1078.6,1946.4 C1076.0,1952.9 1073.2,1959.2 1070.8,1965.8 C1068.4,1972.6 1066.4,1979.2 1064.3,1986.5 C1062.1,1994.6 1059.7,2003.0 1057.9,2012.1 C1055.8,2022.5 1054.1,2034.3 1053.2,2045.8 C1052.3,2057.7 1052.9,2070.3 1052.7,2082.5" stroke-width="1.40"/>
<path d="M1015.7,2076.8 L1065.6,2084.1" stroke-width="1.40"/>
<path d="M1015.5,2076.4 L1028.0,2078.7 L1040.4,2081.1 L1052.8,2082.6 L1065.2,2083.9" stroke-width="1.40"/>
<path d="M1073.0,2074.1 C1076.6,2074.8 1080.8,2075.0 1083.9,2076.4 C1086.6,2077.7 1089.4,2079.8 1090.8,2081.8 C1092.0,2083.5 1092.9,2085.4 1092.7,2087.3 C1092.5,2089.3 1091.0,2091.8 1089.3,2093.5 C1087.3,2095.5 1084.0,2097.1 1080.7,2098.1 C1077.1,2099.4 1072.8,2099.8 1068.3,2100.0 C1063.1,2100.2 1056.6,2099.5 1051.2,2098.9 C1046.3,2098.3 1041.3,2097.5 1037.3,2096.6 C1034.1,2095.9 1031.0,2095.6 1028.7,2094.3 C1026.8,2093.1 1024.7,2091.4 1024.1,2089.6 C1023.5,2088.0 1023.9,2085.7 1024.8,2084.2 C1026.0,2082.3 1029.0,2081.1 1031.1,2079.5" stroke-width="1.40"/>
<path d="M1050.5,2083.4 C1050.7,2084.7 1050.4,2086.3 1051.2,2087.3 C1052.3,2088.6 1055.4,2089.5 1057.5,2089.6 C1059.5,2089.7 1062.2,2089.0 1063.7,2088.0 C1064.8,2087.3 1065.2,2086.0 1066.0,2084.9" stroke-width="1.40"/>
<path d="M1021.0,2090.7 C1019.2,2092.1 1017.2,2093.2 1015.5,2095.0 C1013.6,2097.1 1011.6,2099.8 1010.1,2102.8 C1008.4,2106.3 1007.3,2110.6 1006.2,2115.2 C1004.9,2120.8 1003.9,2127.6 1003.1,2133.9 C1002.3,2140.0 1001.6,2147.2 1001.2,2152.5 C1001.0,2156.4 1000.9,2159.2 1000.8,2162.6" stroke-width="1.40"/>
<path d="M1000.8,2162.6 L1063.7,2170.3" stroke-width="1.40"/>
<path d="M1068.3,2100.0 C1072.5,2099.9 1077.3,2099.5 1080.7,2099.7 C1083.2,2099.8 1085.1,2099.8 1087.0,2100.5 C1088.7,2101.1 1090.1,2102.5 1091.6,2103.6" stroke-width="1.40"/>
<path d="M1087.0,2100.5 C1084.9,2101.5 1082.6,2102.0 1080.7,2103.6 C1078.4,2105.6 1076.3,2108.9 1074.5,2112.1 C1072.6,2115.8 1071.1,2120.1 1069.9,2124.5 C1068.5,2129.4 1067.6,2134.9 1066.8,2140.1 C1065.9,2145.2 1065.4,2150.5 1064.9,2155.6 C1064.4,2160.6 1064.1,2165.4 1063.7,2170.3" stroke-width="1.40"/>
<path d="M1080.7,2103.6 C1082.8,2102.7 1085.1,2100.8 1087.0,2100.9 C1088.6,2101.0 1090.5,2102.1 1091.6,2103.6 C1093.1,2105.5 1093.3,2109.0 1093.9,2112.1 C1094.7,2115.8 1095.2,2120.4 1095.5,2124.5 C1095.8,2128.7 1095.5,2132.8 1095.5,2137.0" stroke-width="1.40"/>
<path d="M1073.0,2116.8 C1074.5,2114.7 1075.7,2112.0 1077.6,2110.6 C1079.4,2109.2 1082.0,2107.9 1083.9,2108.2 C1085.6,2108.5 1087.3,2110.4 1088.5,2112.1 C1090.0,2114.1 1090.6,2117.3 1091.6,2119.9" stroke-width="1.40"/>
<path d="M1070.7,2130.7 C1071.9,2128.2 1072.8,2125.2 1074.5,2123.0 C1076.2,2120.8 1078.7,2118.5 1080.7,2117.5 C1082.3,2116.8 1084.0,2116.3 1085.4,2116.8 C1086.9,2117.2 1088.3,2119.1 1089.3,2120.7 C1090.4,2122.2 1090.8,2124.3 1091.6,2126.1" stroke-width="1.40"/>
<path d="M1084.6,2130.7 L1090.1,2127.6 L1093.9,2130.7 L1096.3,2137.0 L1097.0,2143.2 L1094.7,2155.6 L1091.6,2168.0 L1087.0,2174.2 L1083.9,2175.8 L1081.5,2168.0 L1080.4,2155.6 L1080.7,2143.2 L1084.6,2130.7" stroke-width="1.40"/>
<path d="M1066.8,2140.1 C1067.3,2144.2 1067.6,2148.1 1068.3,2152.5 C1069.1,2157.4 1070.0,2163.4 1071.4,2168.0 C1072.7,2172.0 1074.5,2175.3 1076.1,2178.9" stroke-width="1.40"/>
<path d="M1004.7,2164.1 C1005.4,2167.0 1005.6,2171.1 1007.0,2172.7 C1008.0,2173.8 1009.8,2174.6 1010.9,2174.2 C1011.9,2173.9 1012.4,2171.6 1013.2,2170.3" stroke-width="1.40"/>
<path d="M1013.2,2168.0 C1014.0,2170.3 1014.4,2173.5 1015.5,2175.0 C1016.4,2176.1 1017.4,2176.8 1018.6,2177.0 C1020.0,2177.2 1022.1,2176.9 1023.3,2175.8 C1024.9,2174.3 1025.4,2170.6 1026.4,2168.0" stroke-width="1.40"/>
<path d="M1062.9,2171.1 C1063.1,2174.2 1062.6,2178.5 1063.7,2180.4 C1064.4,2181.7 1065.7,2182.7 1066.8,2182.8 C1067.8,2182.9 1069.2,2182.2 1069.9,2181.2 C1070.8,2179.8 1070.4,2176.6 1070.7,2174.2" stroke-width="1.40"/>
<path d="M1071.4,2178.9 C1073.0,2180.4 1074.6,2183.5 1076.1,2183.5 C1077.4,2183.6 1078.7,2181.6 1080.0,2180.4 C1081.3,2179.1 1082.6,2177.3 1083.9,2175.8" stroke-width="1.40"/>
<path d="M1148.4,1716.9 L1148.4,1738.1" stroke-width="1.40"/>
<path d="M728.6,1739.8 C742.4,1740.4 754.8,1740.4 770.0,1741.8 C788.6,1743.5 811.1,1748.7 832.1,1750.1 C853.4,1751.5 875.3,1751.2 896.8,1750.1 C918.4,1749.0 942.1,1746.6 961.5,1743.6 C977.6,1741.2 993.1,1737.3 1005.5,1734.6 C1014.7,1732.6 1020.9,1731.0 1029.4,1729.0 C1039.1,1726.8 1049.0,1723.6 1060.5,1722.0 C1074.3,1720.1 1092.0,1720.4 1107.0,1719.5 C1121.2,1718.6 1134.6,1717.7 1148.4,1716.9" stroke-width="1.40"/>
<path d="M736.3,1760.5 C748.4,1762.0 759.0,1763.4 772.6,1765.1 C790.0,1767.4 811.8,1771.6 832.1,1772.9 C853.2,1774.2 875.3,1774.0 896.8,1772.9 C918.4,1771.8 942.1,1769.8 961.5,1766.4 C977.7,1763.6 995.7,1757.8 1005.5,1755.3 C1010.4,1754.0 1011.6,1753.5 1016.5,1752.3 C1026.2,1749.9 1045.5,1744.5 1060.5,1742.5 C1075.7,1740.4 1092.0,1740.9 1107.0,1740.2 C1121.2,1739.5 1134.6,1738.8 1148.4,1738.1" stroke-width="1.40"/>
<path d="M728.6,1739.8 C720.8,1741.0 712.6,1741.1 705.3,1743.6 C697.9,1746.2 691.0,1750.6 684.6,1755.3 C678.0,1760.1 671.7,1766.0 666.5,1772.1 C661.4,1778.1 656.7,1784.5 653.5,1791.5 C650.2,1798.7 648.3,1807.0 647.0,1814.8 C645.9,1822.5 646.4,1830.4 646.3,1838.1 C646.1,1845.5 646.3,1852.8 646.3,1860.1" stroke-width="1.40"/>
<path d="M728.6,1744.4 C720.8,1746.3 712.6,1747.2 705.3,1750.1 C698.0,1753.0 690.8,1757.0 684.6,1761.7 C678.3,1766.5 672.7,1772.5 667.8,1778.6 C662.8,1784.6 658.1,1791.0 654.8,1798.0 C651.6,1804.9 649.8,1812.9 648.3,1820.0 C647.1,1826.3 647.0,1832.1 646.3,1838.1" stroke-width="1.40"/>
<path d="M728.6,1749.6 C720.8,1751.7 712.5,1752.7 705.3,1755.8 C698.3,1758.8 691.8,1763.0 685.9,1767.7 C679.9,1772.5 674.5,1778.3 669.6,1784.3 C664.7,1790.2 660.0,1796.5 656.6,1803.2 C653.4,1809.7 651.3,1817.3 649.6,1823.9 C648.2,1829.7 647.7,1835.1 646.8,1840.7" stroke-width="1.40"/>
<path d="M728.6,1755.3 C721.2,1757.4 713.5,1758.6 706.6,1761.7 C699.7,1764.9 693.1,1769.2 687.2,1773.9 C681.3,1778.7 675.9,1784.4 671.1,1790.2 C666.4,1795.9 662.1,1802.0 658.7,1808.3 C655.4,1814.5 652.9,1821.4 650.9,1827.7 C649.2,1833.5 648.5,1839.0 647.3,1844.6" stroke-width="1.40"/>
<path d="M736.3,1760.5 C726.0,1763.0 713.8,1764.4 705.3,1768.2 C698.5,1771.3 693.7,1775.3 688.5,1779.9 C682.9,1784.7 677.7,1790.8 672.9,1796.7 C668.2,1802.5 663.5,1808.6 660.0,1814.8 C656.7,1820.7 654.3,1826.9 652.2,1832.9 C650.3,1838.6 649.3,1844.1 647.8,1849.7" stroke-width="1.40"/>
<path d="M646.3,1860.1 L1050.0,1843.3 L1118.7,1841.6" stroke-width="1.40"/>
<path d="M694.9,1860.1 L694.9,1880.8 L697.5,1883.4 L706.6,1883.4 L709.2,1880.8 L709.2,1859.6" stroke-width="1.40"/>
<path d="M694.9,1869.2 C691.5,1870.0 687.9,1870.3 684.6,1871.7 C681.0,1873.3 675.8,1875.3 674.2,1878.2 C672.8,1880.7 672.8,1884.8 674.2,1887.3 C675.8,1890.1 680.4,1892.5 684.6,1893.7 C689.6,1895.3 696.9,1894.9 702.7,1894.5 C708.1,1894.2 713.3,1893.2 718.2,1891.9 C722.8,1890.7 728.0,1889.5 731.2,1887.3 C733.6,1885.5 736.5,1883.0 736.3,1880.8 C736.1,1877.9 730.2,1873.9 726.0,1871.7 C721.3,1869.3 714.8,1869.2 709.2,1867.9" stroke-width="1.40"/>
<path d="M736.3,1880.8 C737.8,1887.7 740.8,1894.4 740.7,1901.5 C740.6,1909.0 738.7,1918.4 735.0,1924.8 C731.7,1930.7 725.6,1934.3 720.8,1939.0" stroke-width="1.40"/>
<path d="M618.1,1939.5 C618.1,1930.7 617.0,1921.3 618.1,1913.1 C619.1,1905.8 621.1,1898.5 623.8,1892.4 C626.1,1887.1 628.9,1882.1 632.8,1878.2 C636.7,1874.3 641.8,1871.4 647.0,1869.2 C652.6,1866.8 659.0,1864.9 665.2,1864.5 C671.5,1864.0 678.1,1865.9 684.6,1866.6" stroke-width="1.40"/>
<path d="M626.3,1939.5 C627.2,1934.2 627.1,1928.4 628.9,1923.5 C630.7,1918.8 633.6,1914.6 636.7,1910.6 C640.0,1906.4 643.8,1901.7 648.3,1898.9 C652.9,1896.1 658.6,1894.4 663.9,1893.7 C669.0,1893.1 674.4,1893.6 679.4,1895.0 C684.7,1896.5 690.3,1899.3 694.9,1902.8 C699.8,1906.5 704.3,1912.1 707.9,1917.0 C711.1,1921.6 713.5,1927.1 715.6,1931.3 C717.2,1934.4 718.2,1936.8 719.5,1939.5" stroke-width="1.40"/>
<path d="M618.1,1939.5 L626.3,1939.5" stroke-width="1.40"/>
<path d="M710.5,1939.5 L720.8,1939.5" stroke-width="1.40"/>
<path d="M710.5,1939.5 C709.2,1935.5 708.4,1931.3 706.6,1927.4 C704.6,1923.3 701.8,1919.1 698.8,1915.7 C696.1,1912.7 692.8,1910.6 689.8,1908.0" stroke-width="1.40"/>
<path d="M679.4,1889.9 C683.3,1892.4 687.4,1895.1 691.0,1897.6 C694.3,1899.8 697.1,1901.9 700.1,1904.1" stroke-width="1.40"/>
<path d="M634.9,1933.9 L639.3,1919.6 L650.9,1908.0 L667.8,1902.8 L684.6,1906.7 L697.5,1918.3 L702.7,1936.4 L698.8,1954.6 L684.6,1968.8 L669.0,1971.9 L653.5,1967.5 L640.6,1954.6 L634.9,1933.9" stroke-width="1.40"/>
<path d="M638.0,1928.7 L644.5,1917.0 L653.5,1909.3 L667.8,1905.4 L683.3,1910.0 L694.9,1920.9 L700.1,1933.9" stroke-width="1.40"/>
<path d="M644.5,1941.6 L647.0,1930.0 L656.1,1923.5 L671.6,1922.2 L685.9,1927.4 L693.6,1941.6 L691.0,1955.8 L683.3,1963.6 L669.0,1967.5 L654.8,1963.6 L646.3,1953.3 L644.5,1941.6" stroke-width="1.40"/>
<path d="M1257.9,1753.1 L1257.9,1853.3" stroke-width="1.40"/>
<path d="M1257.9,1753.1 L1287.4,1736.0" stroke-width="1.40"/>
<path d="M1287.4,1736.0 C1308.3,1743.9 1331.7,1751.9 1350.0,1759.6 C1364.6,1765.8 1375.1,1770.6 1388.8,1777.7 C1405.0,1786.2 1423.2,1798.7 1440.6,1807.5 C1457.3,1815.9 1474.1,1822.6 1491.0,1829.5 C1507.8,1836.4 1524.4,1844.4 1541.5,1848.9 C1558.1,1853.3 1577.8,1853.9 1592.0,1856.7 C1602.5,1858.7 1610.9,1860.1 1619.2,1863.1 C1626.7,1865.9 1633.1,1869.3 1639.9,1873.5 C1647.0,1877.9 1654.1,1882.9 1660.6,1889.0 C1667.5,1895.7 1675.4,1903.8 1680.0,1912.3 C1684.3,1920.3 1685.8,1929.5 1687.7,1938.2 C1689.6,1946.8 1690.5,1956.1 1691.6,1964.1 C1692.5,1971.0 1693.2,1977.0 1693.9,1983.5" stroke-width="1.40"/>
<path d="M1257.9,1753.1 C1268.0,1757.6 1277.6,1762.3 1288.2,1766.6 C1299.7,1771.1 1313.5,1774.9 1324.4,1779.5 C1333.8,1783.5 1340.0,1786.9 1350.0,1792.0 C1364.3,1799.2 1384.1,1809.7 1401.8,1819.2 C1420.3,1829.1 1439.8,1842.3 1458.7,1850.2 C1476.0,1857.4 1493.5,1862.0 1510.5,1865.7 C1526.3,1869.2 1542.5,1869.8 1557.0,1872.2 C1569.9,1874.3 1583.1,1875.8 1593.3,1879.2 C1601.3,1881.8 1607.9,1884.7 1614.0,1889.0 C1619.9,1893.2 1624.5,1898.8 1629.5,1904.6 C1634.9,1910.8 1640.7,1917.9 1645.0,1925.3 C1649.3,1932.6 1652.5,1940.9 1655.4,1948.6 C1658.0,1955.6 1660.3,1962.3 1661.9,1969.3 C1663.3,1976.1 1664.1,1984.0 1664.4,1990.0 C1664.7,1994.4 1664.4,1997.7 1664.4,2001.6" stroke-width="1.40"/>
<path d="M1603.6,1874.8 C1610.5,1878.7 1618.2,1881.8 1624.3,1886.4 C1630.2,1890.9 1635.2,1896.1 1639.9,1902.0 C1644.8,1908.1 1648.9,1915.4 1652.8,1922.7 C1656.7,1930.1 1660.3,1938.1 1663.1,1946.0 C1665.9,1953.6 1668.3,1961.0 1669.6,1969.3 C1671.0,1978.2 1670.5,1988.2 1670.9,1997.7" stroke-width="1.40"/>
<path d="M1610.1,1870.9 C1617.4,1875.2 1625.7,1878.9 1632.1,1883.9 C1638.0,1888.5 1643.0,1893.5 1647.6,1899.4 C1652.5,1905.5 1656.7,1912.8 1660.6,1920.1 C1664.5,1927.5 1668.2,1935.3 1670.9,1943.4 C1673.6,1951.6 1675.4,1960.7 1676.6,1969.3 C1677.8,1977.5 1677.6,1985.6 1678.2,1993.8" stroke-width="1.40"/>
<path d="M1615.3,1867.0 C1623.0,1871.3 1631.7,1874.8 1638.6,1880.0 C1645.0,1884.8 1650.4,1890.6 1655.4,1896.8 C1660.4,1903.1 1664.6,1910.2 1668.3,1917.5 C1672.2,1924.9 1675.6,1932.7 1678.2,1940.8 C1680.8,1949.1 1682.5,1958.4 1683.9,1966.7 C1685.1,1974.2 1685.4,1981.2 1686.2,1988.4" stroke-width="1.40"/>
<path d="M1664.4,2001.6 L1693.9,1983.5" stroke-width="1.40"/>
<path d="M1257.9,1853.3 L1400.0,1905.8 L1664.4,2001.6" stroke-width="1.40"/>
<path d="M1288.2,1693.6 C1300.3,1691.0 1311.9,1687.5 1324.4,1685.8 C1337.7,1684.0 1351.6,1683.9 1365.8,1683.2 C1380.8,1682.5 1396.5,1683.0 1412.1,1681.5 C1428.3,1679.9 1444.6,1677.7 1461.3,1673.7 C1479.1,1669.4 1498.9,1662.5 1515.6,1656.1 C1530.5,1650.5 1543.9,1644.0 1557.0,1638.0 C1569.2,1632.4 1581.8,1624.0 1592.0,1621.2 C1599.2,1619.2 1605.2,1619.3 1611.4,1619.4 C1617.2,1619.4 1622.5,1619.6 1628.2,1621.2 C1634.6,1623.0 1640.5,1626.1 1647.6,1630.2 C1657.3,1635.9 1673.0,1645.3 1680.0,1653.5 C1684.9,1659.3 1686.7,1665.3 1689.0,1671.6 C1691.4,1678.2 1692.5,1685.4 1694.2,1692.3" stroke-width="1.40"/>
<path d="M1288.2,1720.0 C1310.6,1714.1 1336.8,1705.6 1355.5,1702.4 C1368.4,1700.2 1376.5,1700.1 1388.8,1699.6 C1404.2,1698.9 1423.5,1700.9 1440.6,1699.6 C1457.6,1698.2 1474.3,1695.6 1491.0,1691.6 C1508.3,1687.4 1526.8,1681.3 1542.8,1675.0 C1557.2,1669.3 1569.3,1662.2 1582.9,1656.1 C1596.9,1649.9 1611.4,1644.0 1625.6,1638.0" stroke-width="1.40"/>
<path d="M1625.6,1638.0 C1637.3,1639.7 1650.8,1640.0 1660.6,1643.2 C1668.2,1645.7 1673.5,1650.1 1680.0,1653.5" stroke-width="1.40"/>
<path d="M1602.3,1625.6 C1607.9,1624.9 1613.4,1623.3 1619.2,1623.5 C1625.4,1623.7 1632.1,1625.9 1638.6,1627.1" stroke-width="1.40"/>
<path d="M1611.4,1629.7 C1617.4,1629.2 1623.5,1627.7 1629.5,1628.2 C1635.6,1628.6 1641.6,1630.9 1647.6,1632.3" stroke-width="1.40"/>
<path d="M1619.2,1633.9 C1625.6,1633.7 1632.2,1632.5 1638.6,1633.3 C1645.1,1634.2 1651.5,1637.3 1658.0,1639.3" stroke-width="1.40"/>
<path d="M1694.2,1692.3 L1694.2,1716.9 L1405.6,1790.7" stroke-width="1.40"/>
<path d="M1623.4,1734.6 L1623.4,1752.5 L1627.3,1755.6 L1633.5,1756.8 L1639.0,1754.8 L1641.6,1752.2 L1641.6,1730.7" stroke-width="1.40"/>
<path d="M1623.4,1739.3 C1619.6,1740.1 1615.2,1740.4 1611.8,1741.6 C1608.9,1742.6 1606.2,1743.8 1604.0,1745.5 C1602.1,1747.0 1599.8,1749.0 1599.4,1750.9 C1599.0,1752.6 1599.8,1754.7 1600.9,1756.4 C1602.4,1758.5 1605.8,1760.3 1608.7,1761.8 C1611.9,1763.5 1615.8,1764.9 1619.6,1765.7 C1623.5,1766.5 1627.8,1766.8 1632.0,1766.8 C1636.1,1766.8 1640.4,1766.4 1644.4,1765.7 C1648.2,1765.0 1652.0,1763.8 1655.3,1762.6 C1658.1,1761.5 1661.1,1760.4 1663.0,1758.7 C1664.7,1757.2 1665.9,1754.9 1666.5,1753.3 C1666.9,1752.1 1666.8,1751.2 1666.9,1750.2" stroke-width="1.40"/>
<path d="M1641.6,1738.5 L1646.7,1739.3 L1666.9,1750.2" stroke-width="1.40"/>
<path d="M1641.6,1730.7 L1655.3,1730.7 L1701.9,1757.1" stroke-width="1.40"/>
<path d="M1599.4,1750.9 C1598.3,1755.1 1596.9,1759.5 1596.3,1763.4 C1595.7,1766.7 1595.4,1769.3 1595.5,1772.7 C1595.6,1776.5 1596.1,1781.1 1597.0,1785.1 C1598.0,1788.9 1599.5,1792.5 1600.9,1796.0 C1602.3,1799.2 1603.2,1802.8 1605.6,1805.3 C1608.2,1808.0 1612.6,1810.0 1616.5,1811.5 C1620.4,1813.0 1624.9,1813.8 1628.9,1814.3 C1632.6,1814.7 1636.8,1814.8 1639.8,1814.3 C1641.9,1813.9 1643.4,1812.9 1645.2,1812.3" stroke-width="1.40"/>
<path d="M1663.0,1758.7 L1659.9,1766.5" stroke-width="1.40"/>
<path d="M1639.8,1814.3 C1640.0,1809.2 1639.4,1803.8 1640.5,1799.1 C1641.6,1794.6 1643.8,1790.7 1646.0,1786.6 C1648.2,1782.4 1650.7,1778.1 1653.7,1774.2 C1656.9,1770.3 1660.6,1766.2 1664.6,1763.4 C1668.4,1760.6 1672.8,1758.6 1677.0,1757.1 C1680.9,1755.8 1684.7,1754.9 1688.7,1754.8 C1692.9,1754.8 1697.9,1755.4 1701.9,1757.1 C1705.7,1758.8 1709.0,1761.8 1712.0,1764.9 C1715.0,1768.0 1717.9,1771.9 1719.7,1775.8 C1721.4,1779.4 1721.8,1783.5 1722.8,1787.4" stroke-width="1.40"/>
<path d="M1722.8,1787.4 L1715.1,1791.0" stroke-width="1.40"/>
<path d="M1715.1,1791.0 C1714.5,1788.0 1714.5,1784.9 1713.5,1782.0 C1712.5,1778.8 1710.8,1775.4 1708.9,1772.7 C1706.9,1770.0 1704.6,1767.4 1701.9,1765.7 C1699.0,1764.0 1695.2,1763.0 1691.8,1762.6 C1688.3,1762.2 1684.3,1762.3 1680.9,1763.4 C1677.3,1764.5 1674.0,1767.1 1670.8,1769.6 C1667.5,1772.2 1664.3,1775.5 1661.5,1778.9 C1658.6,1782.3 1655.9,1785.9 1653.7,1789.8 C1651.5,1793.6 1649.6,1798.2 1648.3,1802.2 C1647.1,1805.7 1646.7,1808.9 1646.0,1812.3" stroke-width="1.40"/>
<path d="M1676.2,1766.5 C1679.6,1766.2 1683.2,1765.1 1686.3,1765.7 C1689.4,1766.2 1692.3,1767.7 1694.9,1769.6 C1697.6,1771.5 1699.9,1774.5 1701.9,1777.3 C1703.8,1780.2 1705.0,1783.5 1706.5,1786.6" stroke-width="1.40"/>
<path d="M1646.7,1797.5 L1651.4,1786.6 L1659.2,1777.3 L1668.5,1771.9 L1680.9,1769.6 L1693.3,1774.2 L1701.9,1783.5 L1707.3,1794.4 L1705.7,1805.3 L1701.1,1816.1 L1693.3,1825.5 L1684.0,1830.9 L1673.1,1833.2 L1662.3,1830.1 L1654.5,1822.4 L1648.3,1811.5 L1646.7,1797.5" stroke-width="1.40"/>
<path d="M1652.2,1805.3 L1654.5,1792.9 L1662.3,1782.0 L1673.1,1775.8 L1684.0,1775.0" stroke-width="1.40"/>
<path d="M1664.6,1806.8 L1669.3,1795.2 L1677.8,1785.1 L1688.7,1781.2 L1699.5,1786.6 L1705.0,1797.5 L1705.7,1805.3 L1702.6,1814.6 L1694.9,1822.4 L1682.5,1828.3 L1673.1,1825.5 L1666.9,1817.7 L1664.6,1806.8" stroke-width="1.40"/>
<path d="M1623.4,1988.0 L1623.4,2007.5 L1626.6,2010.6 L1632.8,2012.1 L1639.0,2010.2 L1641.6,2007.5 L1641.6,1994.7" stroke-width="1.40"/>
<path d="M1623.4,1994.3 C1619.0,1995.0 1614.0,1995.2 1610.2,1996.6 C1607.2,1997.7 1604.3,1999.0 1602.5,2001.2 C1600.7,2003.4 1600.4,2006.9 1599.4,2009.8" stroke-width="1.40"/>
<path d="M1664.6,2001.2 L1666.5,2008.2 L1645.2,2021.7 L1632.0,2022.7 L1614.9,2019.1 L1604.0,2014.4 L1599.4,2009.8" stroke-width="1.40"/>
<path d="M1599.4,2009.8 C1597.9,2012.1 1596.4,2014.3 1595.0,2016.8 C1593.7,2019.3 1592.0,2021.3 1591.3,2024.5 C1590.2,2029.5 1589.9,2037.9 1591.3,2043.9 C1592.7,2049.8 1596.7,2054.8 1599.4,2060.2" stroke-width="1.40"/>
<path d="M1599.4,2060.2 L1605.3,2062.1 L1606.4,2061.5" stroke-width="1.40"/>
<path d="M1664.6,2001.2 C1668.2,2002.0 1671.8,2002.3 1675.5,2003.6 C1679.6,2005.0 1683.9,2007.2 1687.9,2009.8 C1692.2,2012.6 1696.7,2016.1 1700.3,2019.9 C1703.9,2023.6 1706.6,2027.7 1709.6,2032.3 C1713.1,2037.5 1717.5,2043.9 1719.7,2049.4 C1721.5,2053.8 1721.8,2057.9 1722.8,2062.1" stroke-width="1.40"/>
<path d="M1722.8,2062.1 L1682.5,2086.3 L1673.9,2082.8" stroke-width="1.40"/>
<path d="M1599.4,2060.2 C1599.4,2057.1 1598.7,2054.0 1599.4,2050.9 C1600.1,2047.6 1601.9,2044.0 1604.0,2040.8 C1606.4,2037.3 1609.6,2033.4 1613.4,2030.7 C1617.3,2027.9 1622.9,2025.2 1627.3,2024.5 C1631.1,2024.0 1634.5,2024.8 1638.2,2026.1 C1642.7,2027.6 1647.7,2031.0 1652.2,2033.9 C1656.5,2036.7 1661.1,2039.3 1664.6,2043.2 C1668.4,2047.4 1671.1,2053.8 1673.9,2058.7 C1676.4,2063.0 1679.5,2066.6 1680.9,2071.1 C1682.4,2075.8 1681.9,2081.3 1682.5,2086.3" stroke-width="1.40"/>
<path d="M1606.4,2061.5 C1606.6,2058.5 1606.3,2055.5 1607.1,2052.5 C1608.1,2048.9 1610.3,2044.4 1612.6,2041.6 C1614.5,2039.2 1617.0,2037.5 1619.6,2036.2 C1622.2,2034.9 1625.0,2033.9 1628.1,2033.9 C1631.7,2033.8 1635.8,2035.5 1639.8,2037.0 C1644.3,2038.5 1649.6,2040.3 1653.7,2043.2 C1657.9,2046.0 1661.7,2050.0 1664.6,2054.0 C1667.3,2057.8 1669.3,2061.9 1670.8,2066.5 C1672.5,2071.4 1672.9,2077.3 1673.9,2082.8" stroke-width="1.40"/>
<path d="M1614.1,2057.1 L1616.5,2049.4 L1624.2,2043.2 L1633.5,2040.8 L1646.0,2043.2 L1656.8,2050.9 L1664.6,2061.8 L1669.3,2074.2 L1672.4,2086.6 L1670.0,2096.0 L1660.7,2103.0 L1647.5,2106.5 L1638.2,2104.5 L1628.9,2097.5 L1619.6,2086.6 L1614.1,2072.7 L1614.1,2057.1" stroke-width="1.40"/>
<path d="M1615.7,2058.7 L1618.8,2050.9 L1625.8,2044.7 L1635.1,2042.9 L1644.4,2045.5 L1653.7,2052.5 L1661.5,2063.4 L1666.1,2075.8 L1668.5,2088.2 L1666.9,2096.0 L1659.9,2102.2" stroke-width="1.40"/>
<path d="M1617.2,2061.8 L1622.7,2054.3 L1632.0,2052.2 L1641.3,2058.7 L1650.6,2067.2 L1655.3,2077.3 L1654.5,2088.2 L1649.1,2096.7 L1639.0,2100.3 L1632.0,2098.3 L1624.2,2089.8 L1618.8,2077.3 L1617.2,2061.8" stroke-width="1.40"/>
<path d="M1016.5,1624.2 C1016.0,1617.3 1015.0,1611.2 1015.2,1603.5 C1015.4,1593.6 1016.8,1578.1 1019.0,1569.9 C1020.4,1564.9 1022.0,1561.1 1024.2,1558.2 C1026.0,1555.9 1028.3,1553.7 1030.7,1553.1 C1033.0,1552.4 1035.9,1553.9 1038.5,1554.3" stroke-width="1.40"/>
<path d="M1038.5,1554.3 C1039.8,1553.1 1040.6,1551.0 1042.3,1550.5 C1044.6,1549.7 1048.4,1551.3 1051.4,1551.8" stroke-width="1.40"/>
<path d="M1051.4,1551.8 C1052.7,1550.7 1053.6,1549.1 1055.3,1548.7 C1057.6,1548.1 1061.3,1549.9 1064.3,1550.5" stroke-width="1.40"/>
<path d="M1064.3,1550.5 C1065.6,1549.3 1066.6,1547.5 1068.2,1547.1 C1070.3,1546.6 1073.4,1548.5 1076.0,1549.2" stroke-width="1.40"/>
<path d="M1076.0,1549.2 C1077.3,1548.3 1078.4,1546.9 1079.9,1546.6 C1081.4,1546.2 1083.3,1546.5 1085.0,1547.4 C1087.5,1548.5 1090.5,1551.6 1092.8,1554.3 C1095.3,1557.3 1096.7,1560.5 1099.3,1564.7 C1103.4,1571.4 1109.3,1582.0 1114.8,1590.6 C1120.5,1599.3 1127.0,1608.4 1132.9,1616.5 C1138.2,1623.8 1143.3,1630.3 1148.4,1637.2" stroke-width="1.40"/>
<path d="M1039.8,1555.6 C1043.2,1561.2 1046.4,1566.1 1050.1,1572.5 C1054.9,1580.7 1060.3,1592.0 1065.6,1600.9 C1070.6,1609.2 1075.4,1617.2 1081.2,1624.2 C1086.7,1630.9 1092.9,1636.6 1099.3,1642.3 C1105.8,1648.2 1112.3,1653.8 1120.0,1659.2 C1128.5,1665.1 1139.0,1670.4 1148.4,1676.0" stroke-width="1.40"/>
<path d="M1016.5,1624.2 L1047.5,1661.7 L1070.8,1687.6 L1091.5,1710.9 L1099.3,1720.0" stroke-width="1.40"/>
<path d="M1006.7,1659.8 L1041.6,1655.9" stroke-width="1.40"/>
<path d="M999.7,1688.5 C999.9,1684.9 1000.0,1681.2 1000.5,1677.6 C1001.0,1674.0 1001.6,1669.9 1002.8,1666.8 C1003.8,1664.1 1004.8,1660.5 1006.7,1659.8 C1008.5,1659.1 1011.6,1660.6 1013.7,1662.1 C1016.2,1664.0 1018.1,1667.8 1019.9,1671.4 C1022.1,1675.8 1023.8,1681.7 1025.3,1687.0 C1026.8,1692.1 1027.7,1697.5 1029.2,1702.5 C1030.6,1707.3 1032.2,1712.2 1033.9,1716.5 C1035.3,1720.1 1037.0,1723.2 1038.5,1726.6" stroke-width="1.40"/>
<path d="M1002.0,1677.6 C1003.1,1675.3 1003.6,1672.2 1005.1,1670.7 C1006.4,1669.4 1008.2,1668.1 1009.8,1668.3 C1011.6,1668.5 1013.7,1670.9 1015.2,1673.0 C1017.2,1675.7 1018.5,1680.1 1019.9,1683.9 C1021.3,1687.8 1022.6,1691.9 1023.8,1696.3 C1025.0,1701.1 1026.2,1706.5 1026.9,1711.8 C1027.5,1717.3 1027.4,1723.2 1027.6,1728.9" stroke-width="1.40"/>
<path d="M1006.7,1684.6 C1007.2,1682.6 1007.3,1679.9 1008.2,1678.4 C1009.0,1677.3 1010.2,1676.1 1011.3,1676.1 C1012.7,1676.0 1014.7,1677.6 1016.0,1679.2 C1017.7,1681.3 1018.8,1685.1 1019.9,1688.5 C1021.1,1692.3 1022.0,1696.7 1023.0,1700.9 C1024.0,1705.4 1025.4,1710.2 1026.1,1714.9 C1026.7,1719.5 1026.6,1724.2 1026.9,1728.9" stroke-width="1.40"/>
<path d="M1029.2,1702.5 C1029.7,1707.7 1030.9,1713.4 1030.7,1718.0 C1030.6,1721.7 1029.7,1724.7 1029.2,1728.1" stroke-width="1.40"/>
<path d="M1001.2,1687.7 C1000.2,1691.6 998.5,1695.0 998.1,1699.4 C997.7,1704.8 998.5,1712.9 999.7,1718.0 C1000.6,1721.7 1002.5,1724.5 1003.6,1727.3 C1004.5,1729.6 1005.1,1731.5 1005.9,1733.5" stroke-width="1.40"/>
<path d="M1001.2,1687.7 C1002.5,1687.5 1003.9,1686.4 1005.1,1687.0 C1006.9,1687.8 1008.5,1691.8 1009.8,1694.7 C1011.2,1698.0 1012.1,1701.9 1012.9,1705.6 C1013.7,1709.2 1014.2,1712.5 1014.4,1716.5 C1014.8,1721.2 1014.4,1726.8 1014.4,1732.0" stroke-width="1.40"/>
<path d="M1047.0,1662.1 C1042.1,1662.6 1035.9,1662.3 1032.3,1663.7 C1029.9,1664.6 1028.2,1665.9 1026.9,1667.5 C1025.6,1669.1 1024.6,1671.1 1024.5,1673.0 C1024.5,1675.0 1025.6,1677.4 1026.9,1679.2 C1028.2,1681.0 1030.0,1682.7 1032.3,1683.9 C1035.2,1685.3 1039.3,1685.9 1043.2,1686.6 C1047.3,1687.5 1052.4,1688.6 1056.4,1688.5 C1059.5,1688.4 1062.4,1687.4 1064.9,1687.0 C1066.9,1686.6 1068.5,1686.2 1070.3,1685.9" stroke-width="1.40"/>
<path d="M1049.4,1666.0 L1050.9,1676.1 L1058.7,1676.1" stroke-width="1.40"/>
<path d="M1090.5,1712.6 L1089.0,1719.9" stroke-width="1.40"/>
</svg>
</body></html>
